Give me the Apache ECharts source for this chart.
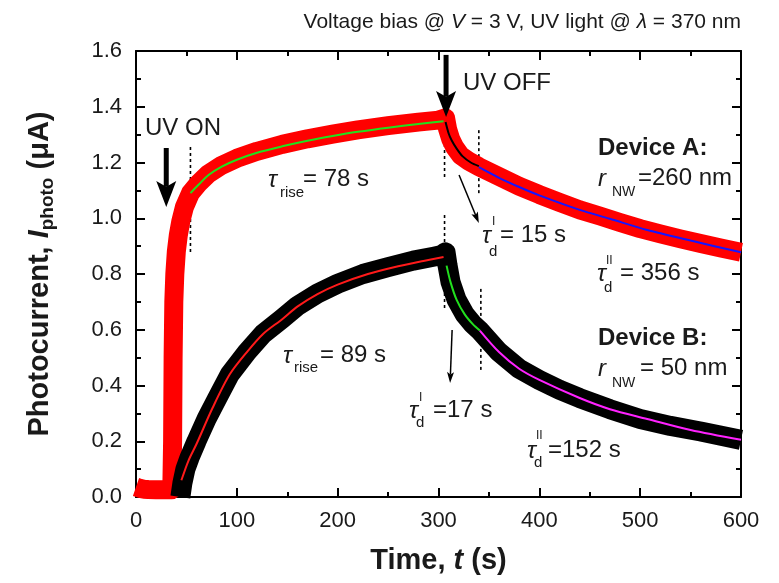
<!DOCTYPE html>
<html>
<head>
<meta charset="utf-8">
<title>Photocurrent transients</title>
<script src="https://cdn.jsdelivr.net/npm/echarts@6.0.0/dist/echarts.min.js"></script>
<style>
  html, body { margin: 0; padding: 0; background: #fff; }
  #chart { width: 779px; height: 583px; }
</style>
</head>
<body>
<div id="chart"></div>
<script>
(function () {
  'use strict';

  var FONT = '"Liberation Sans", Arial, sans-serif';
  var INK = '#1a1a1a';

  var timeA = [0, 4, 8, 12, 20, 28, 35.5, 36.3, 36.8, 37.5, 38.5, 40, 42, 44.5, 48, 54, 62, 72, 85, 100, 120, 145, 170, 195, 220, 250, 280, 300, 307,
    309, 312, 316, 322, 330, 340, 360, 380, 400, 420, 440, 460, 480, 500, 520, 540, 560, 580, 600];
  var currentA = [0.036, 0.031, 0.028, 0.027, 0.026, 0.026, 0.026, 0.2, 0.5, 0.7, 0.8, 0.88, 0.94, 0.99, 1.04, 1.09, 1.125, 1.16, 1.19, 1.215, 1.24, 1.265, 1.285, 1.302, 1.317, 1.332, 1.345, 1.352, 1.36,
    1.32, 1.285, 1.255, 1.225, 1.205, 1.185, 1.15, 1.115, 1.085, 1.057, 1.03, 1.008, 0.985, 0.963, 0.944, 0.926, 0.909, 0.893, 0.878];

  var timeB = [44, 46, 49, 53, 60, 70, 80, 93, 110, 126, 145, 160, 180, 200, 225, 250, 275, 295, 303, 307,
    309, 312, 318, 326, 334, 341, 360, 380, 400, 420, 440, 470, 500, 530, 560, 600];
  var currentB = [0.0, 0.05, 0.1, 0.14, 0.2, 0.28, 0.35, 0.44, 0.52, 0.585, 0.64, 0.685, 0.73, 0.765, 0.8, 0.825, 0.848, 0.862, 0.868, 0.878,
    0.83, 0.77, 0.707, 0.655, 0.62, 0.597, 0.52, 0.46, 0.42, 0.385, 0.355, 0.315, 0.28, 0.255, 0.235, 0.205];

  /* ── exponential fits ── */
  var fitRiseATime = [54, 62, 72, 85, 100, 120, 145, 170, 195, 220, 250, 280, 305];
  var fitRiseA = [1.09, 1.12, 1.155, 1.185, 1.21, 1.235, 1.258, 1.278, 1.295, 1.31, 1.325, 1.338, 1.348];
  var fitFastATime = [307, 310, 313, 318, 324, 332, 340];
  var fitFastA = [1.345, 1.305, 1.28, 1.25, 1.222, 1.2, 1.187];
  var fitSlowATime = [340, 360, 380, 400, 440, 470, 507, 550, 600];
  var fitSlowA = [1.183, 1.145, 1.112, 1.082, 1.03, 0.998, 0.958, 0.92, 0.878];

  var fitRiseBTime = [45, 52, 60, 76, 93, 110, 126, 145, 160, 180, 200, 230, 260, 285, 305];
  var fitRiseB = [0.06, 0.13, 0.19, 0.32, 0.44, 0.52, 0.585, 0.638, 0.683, 0.728, 0.762, 0.8, 0.828, 0.847, 0.861];
  var fitFastBTime = [308, 312, 318, 326, 334, 341];
  var fitFastB = [0.83, 0.77, 0.707, 0.655, 0.62, 0.597];
  var fitSlowBTime = [341, 360, 380, 400, 440, 470, 507, 550, 600];
  var fitSlowB = [0.597, 0.52, 0.46, 0.42, 0.355, 0.315, 0.28, 0.24, 0.205];

  /* ── dotted guides: time, from, to ── */
  var guideTime = [54, 306, 340, 306, 342];
  var guideFrom = [0.879, 1.148, 1.09, 0.678, 0.456];
  var guideTo = [1.256, 1.37, 1.317, 1.019, 0.753];

  /* ── arrows: [t, I] tail -> tip ── */
  var bigArrowTail = [[30, 1.252], [307.5, 1.586]];
  var bigArrowTip = [[30, 1.04], [307.5, 1.363]];
  var thinArrowTail = [[320.4, 1.155], [313.5, 0.599]];
  var thinArrowTip = [[340, 0.983], [311.5, 0.409]];

  function zip(t, v) {
    return t.map(function (x, i) { return [x, v[i]]; });
  }

  // thick data bands: butt caps, since the grid clip is widened by the line width
  function band(name, t, v, color, width) {
    return {
      name: name, type: 'line', data: zip(t, v), showSymbol: false, silent: true, z: 2,
      lineStyle: { color: color, width: width, cap: 'butt', join: 'round' }
    };
  }

  function fit(name, t, v, color) {
    return {
      name: name, type: 'line', data: zip(t, v), showSymbol: false, silent: true, smooth: 0.3, z: 3,
      lineStyle: { color: color, width: 2 }
    };
  }

  function arrowSeries(tails, tips, headLen, headWidth, lineWidth) {
    return {
      type: 'custom', silent: true, z: 4,
      encode: { x: [0, 2], y: [1, 3] },
      data: tails.map(function (p, i) { return [p[0], p[1], tips[i][0], tips[i][1]]; }),
      renderItem: function (params, api) {
        var p0 = api.coord([api.value(0), api.value(1)]);
        var p1 = api.coord([api.value(2), api.value(3)]);
        var dx = p1[0] - p0[0], dy = p1[1] - p0[1];
        var len = Math.sqrt(dx * dx + dy * dy);
        var ux = dx / len, uy = dy / len, px = -uy, py = ux;
        var bx = p1[0] - ux * headLen, by = p1[1] - uy * headLen;
        var nx = p1[0] - ux * headLen * 0.78, ny = p1[1] - uy * headLen * 0.78;
        return {
          type: 'group',
          children: [
            { type: 'line', shape: { x1: p0[0], y1: p0[1], x2: nx, y2: ny }, style: { stroke: '#000', lineWidth: lineWidth } },
            { type: 'polygon', shape: { points: [p1, [bx + px * headWidth / 2, by + py * headWidth / 2], [nx, ny], [bx - px * headWidth / 2, by - py * headWidth / 2]] }, style: { fill: '#000' } }
          ]
        };
      }
    };
  }

  function note(x, y, text, size, extra) {
    var style = { text: text, x: 0, y: 0, fontSize: size, fontFamily: FONT, fill: INK, align: 'left', verticalAlign: 'middle' };
    if (extra) { for (var k in extra) { style[k] = extra[k]; } }
    return { type: 'text', x: x, y: y, silent: true, style: style };
  }

  var it = { fontStyle: 'italic' };
  var bold = { fontWeight: 'bold' };

  var axisCommon = {
    type: 'value',
    axisLine: { onZero: false, lineStyle: { color: '#000', width: 2 } },
    axisTick: { inside: true, length: 9, lineStyle: { color: '#000', width: 2 } },
    minorTick: { show: true, splitNumber: 2, length: 5, lineStyle: { color: '#000', width: 2 } },
    splitLine: { show: false },
    minorSplitLine: { show: false }
  };

  function axis(extra) {
    var a = JSON.parse(JSON.stringify(axisCommon));
    for (var k in extra) { a[k] = extra[k]; }
    return a;
  }

  var labelStyle = { color: INK, fontSize: 22, fontFamily: FONT, showMinLabel: true, showMaxLabel: true };
  var nameRich = {
    b: { fontSize: 29, fontWeight: 'bold', fontFamily: FONT, color: INK, lineHeight: 34 },
    bi: { fontSize: 29, fontWeight: 'bold', fontStyle: 'italic', fontFamily: FONT, color: INK, lineHeight: 34 },
    s: { fontSize: 19, fontWeight: 'bold', fontFamily: FONT, color: INK, lineHeight: 22, verticalAlign: 'bottom' }
  };

  var chart = echarts.init(document.getElementById('chart'), null, { renderer: 'canvas' });
  chart.setOption({
    animation: false,
    backgroundColor: '#fff',
    title: {
      text: 'Voltage bias @ {i|V} = 3 V, UV light @ {i|λ} = 370 nm',
      right: 33, top: 7,
      textStyle: {
        fontSize: 21, fontWeight: 'normal', fontFamily: FONT, color: INK,
        rich: { i: { fontSize: 21, fontStyle: 'italic', fontFamily: FONT, color: INK } }
      }
    },
    grid: { left: 136, right: 38, top: 51, bottom: 86 },
    xAxis: [
      axis({
        min: 0, max: 600, interval: 100, position: 'bottom',
        axisLabel: Object.assign({ margin: 13 }, labelStyle),
        name: '{b|Time, }{bi|t}{b| (s)}', nameLocation: 'middle', nameGap: 47,
        nameTextStyle: { rich: nameRich }
      }),
      axis({ min: 0, max: 600, interval: 100, position: 'top', axisLabel: { show: false } })
    ],
    yAxis: [
      axis({
        min: 0, max: 1.6, interval: 0.2, position: 'left',
        axisLabel: Object.assign({ margin: 14, formatter: function (v) { return v.toFixed(1); } }, labelStyle),
        name: '{b|Photocurrent, }{bi|I}{s|photo}{b| (μA)}', nameLocation: 'middle', nameGap: 79,
        nameTextStyle: { rich: nameRich }
      }),
      axis({ min: 0, max: 1.6, interval: 0.2, position: 'right', axisLabel: { show: false } })
    ],
    series: [
      {
        type: 'custom', silent: true, z: 1,
        encode: { x: 0, y: [1, 2] },
        data: guideTime.map(function (t, i) { return [t, guideFrom[i], guideTo[i]]; }),
        renderItem: function (params, api) {
          var a = api.coord([api.value(0), api.value(1)]);
          var b = api.coord([api.value(0), api.value(2)]);
          return {
            type: 'line',
            shape: { x1: a[0], y1: a[1], x2: b[0], y2: b[1] },
            style: { stroke: '#000', lineWidth: 1.6, lineDash: [3, 3] }
          };
        }
      },
      band('Device A', timeA, currentA, '#ff0000', 19),
      band('Device B', timeB, currentB, '#000000', 20),
      fit('A rise', fitRiseATime, fitRiseA, '#22e01e'),
      fit('A fast decay', fitFastATime, fitFastA, '#000000'),
      fit('A slow decay', fitSlowATime, fitSlowA, '#1515ff'),
      fit('B rise', fitRiseBTime, fitRiseB, '#ff1a1a'),
      fit('B fast decay', fitFastBTime, fitFastB, '#22e01e'),
      fit('B slow decay', fitSlowBTime, fitSlowB, '#ff22ff'),
      arrowSeries(bigArrowTail, bigArrowTip, 26, 20, 5),
      arrowSeries(thinArrowTail, thinArrowTip, 11, 7, 1.5)
    ],
    graphic: [
      note(145, 128, 'UV ON', 24),
      note(463, 83, 'UV OFF', 24),

      note(268, 180, 'τ', 24, it),
      note(280, 193, 'rise', 15),
      note(303, 179, '= 78 s', 24),

      note(283, 356, 'τ', 24, it),
      note(294, 368, 'rise', 15),
      note(320, 355, '= 89 s', 24),

      note(482, 236, 'τ', 24, it),
      note(492, 222, 'I', 12),
      note(489, 252, 'd', 15),
      note(500, 235, '= 15 s', 24),

      note(597, 274, 'τ', 24, it),
      note(606, 261, 'II', 12),
      note(604, 288, 'd', 15),
      note(620, 273, '= 356 s', 24),

      note(409, 411, 'τ', 24, it),
      note(419, 398, 'I', 12),
      note(416, 423, 'd', 15),
      note(433, 410, '=17 s', 24),

      note(527, 451, 'τ', 24, it),
      note(536, 436, 'II', 12),
      note(534, 463, 'd', 15),
      note(548, 450, '=152 s', 24),

      note(598, 148, 'Device A:', 24, bold),
      note(598, 179, 'r', 24, it),
      note(612, 192, 'NW', 14),
      note(638, 178, '=260 nm', 24),

      note(598, 338, 'Device B:', 24, bold),
      note(598, 369, 'r', 24, it),
      note(612, 383, 'NW', 14),
      note(640, 368, '= 50 nm', 24)
    ]
  });

  window.addEventListener('resize', function () { chart.resize(); });
})();
</script>
</body>
</html>
